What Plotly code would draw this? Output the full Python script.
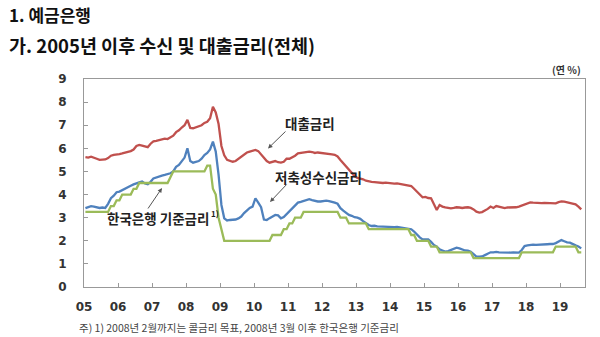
import pandas as pd
import plotly.graph_objects as go

# Monthly observations, Jan 2005 - Aug 2019
months = pd.date_range("2005-01-01", "2019-08-01", freq="MS")

# 대출금리 (loan rate, %)
loan_rate = [
    5.62, 5.60, 5.64, 5.58, 5.55, 5.50, 5.50, 5.52, 5.58, 5.68, 5.72, 5.72,  # 2005
    5.75, 5.78, 5.80, 5.85, 5.88, 5.95, 6.10, 6.15, 6.12, 6.08, 6.05, 6.20,  # 2006
    6.30, 6.32, 6.35, 6.40, 6.42, 6.40, 6.48, 6.55, 6.70, 6.78, 6.90, 7.00,  # 2007
    7.23, 6.88, 6.87, 6.92, 6.95, 7.00, 7.10, 7.15, 7.30, 7.80, 7.55, 7.05,  # 2008
    6.10, 5.70, 5.50, 5.45, 5.42, 5.45, 5.55, 5.64, 5.72, 5.82, 5.86, 5.90,  # 2009
    5.93, 5.88, 5.72, 5.60, 5.45, 5.38, 5.40, 5.45, 5.40, 5.38, 5.42, 5.55,  # 2010
    5.55, 5.60, 5.68, 5.78, 5.80, 5.82, 5.84, 5.86, 5.84, 5.80, 5.82, 5.81,  # 2011
    5.80, 5.78, 5.76, 5.74, 5.72, 5.65, 5.50, 5.35, 5.20, 5.05, 4.90, 4.80,  # 2012
    4.72, 4.70, 4.66, 4.60, 4.56, 4.55, 4.54, 4.52, 4.50, 4.50, 4.52, 4.50,  # 2013
    4.48, 4.47, 4.48, 4.46, 4.45, 4.42, 4.38, 4.37, 4.25, 4.13, 4.00, 3.88,  # 2014
    3.90, 3.85, 3.84, 3.60, 3.33, 3.55, 3.48, 3.45, 3.42, 3.40, 3.42, 3.45,  # 2015
    3.44, 3.42, 3.44, 3.45, 3.42, 3.36, 3.26, 3.22, 3.24, 3.30, 3.38, 3.48,  # 2016
    3.42, 3.50, 3.46, 3.42, 3.41, 3.44, 3.44, 3.45, 3.45, 3.48, 3.52, 3.55,  # 2017
    3.62, 3.66, 3.65, 3.64, 3.62, 3.63, 3.64, 3.63, 3.61, 3.60, 3.62, 3.67,  # 2018
    3.70, 3.69, 3.67, 3.64, 3.62, 3.58, 3.48, 3.36,                          # 2019
]

# 저축성수신금리 (savings deposit rate, %)
deposit_rate = [
    3.41, 3.45, 3.50, 3.48, 3.45, 3.42, 3.44, 3.42, 3.60, 3.84, 3.95, 4.10,  # 2005
    4.13, 4.20, 4.27, 4.32, 4.38, 4.44, 4.50, 4.53, 4.56, 4.48, 4.45, 4.55,  # 2006
    4.70, 4.75, 4.80, 4.82, 4.85, 4.88, 4.92, 5.00, 5.20, 5.28, 5.45, 5.60,  # 2007
    6.00, 5.45, 5.38, 5.42, 5.45, 5.55, 5.71, 5.80, 5.95, 6.29, 5.86, 4.85,  # 2008
    3.55, 2.97, 2.88, 2.90, 2.90, 2.92, 2.97, 3.05, 3.20, 3.33, 3.42, 3.48,  # 2009
    3.84, 3.65, 3.45, 2.92, 2.90, 2.98, 3.05, 3.12, 3.10, 2.97, 3.03, 3.15,  # 2010
    3.30, 3.40, 3.55, 3.65, 3.68, 3.72, 3.78, 3.80, 3.76, 3.72, 3.70, 3.70,  # 2011
    3.72, 3.74, 3.72, 3.70, 3.65, 3.60, 3.41, 3.30, 3.20, 3.12, 3.08, 3.02,  # 2012
    3.00, 2.95, 2.85, 2.76, 2.68, 2.64, 2.65, 2.62, 2.61, 2.60, 2.61, 2.60,  # 2013
    2.60, 2.59, 2.60, 2.58, 2.59, 2.57, 2.55, 2.50, 2.40, 2.25, 2.15, 2.06,  # 2014
    2.05, 2.06, 1.95, 1.82, 1.75, 1.63, 1.58, 1.53, 1.55, 1.60, 1.67, 1.70,  # 2015
    1.67, 1.62, 1.58, 1.57, 1.52, 1.42, 1.31, 1.31, 1.32, 1.38, 1.45, 1.50,  # 2016
    1.50, 1.52, 1.50, 1.49, 1.50, 1.48, 1.49, 1.50, 1.50, 1.49, 1.60, 1.77,  # 2017
    1.80, 1.82, 1.83, 1.82, 1.82, 1.83, 1.84, 1.85, 1.86, 1.86, 1.90, 1.98,  # 2018
    2.03, 1.98, 1.93, 1.92, 1.85, 1.80, 1.75, 1.67,                          # 2019
]

# 한국은행 기준금리 (policy rate, %; call rate target until Feb 2008)
base_rate = [
    3.25, 3.25, 3.25, 3.25, 3.25, 3.25, 3.25, 3.25, 3.25, 3.50, 3.50, 3.75,  # 2005
    3.75, 4.00, 4.00, 4.00, 4.00, 4.25, 4.25, 4.50, 4.50, 4.50, 4.50, 4.50,  # 2006
    4.50, 4.50, 4.50, 4.50, 4.50, 4.50, 4.75, 5.00, 5.00, 5.00, 5.00, 5.00,  # 2007
    5.00, 5.00, 5.00, 5.00, 5.00, 5.00, 5.00, 5.25, 5.25, 4.25, 4.00, 3.00,  # 2008
    2.50, 2.00, 2.00, 2.00, 2.00, 2.00, 2.00, 2.00, 2.00, 2.00, 2.00, 2.00,  # 2009
    2.00, 2.00, 2.00, 2.00, 2.00, 2.00, 2.25, 2.25, 2.25, 2.25, 2.50, 2.50,  # 2010
    2.75, 2.75, 3.00, 3.00, 3.00, 3.25, 3.25, 3.25, 3.25, 3.25, 3.25, 3.25,  # 2011
    3.25, 3.25, 3.25, 3.25, 3.25, 3.25, 3.00, 3.00, 3.00, 2.75, 2.75, 2.75,  # 2012
    2.75, 2.75, 2.75, 2.75, 2.50, 2.50, 2.50, 2.50, 2.50, 2.50, 2.50, 2.50,  # 2013
    2.50, 2.50, 2.50, 2.50, 2.50, 2.50, 2.50, 2.25, 2.25, 2.00, 2.00, 2.00,  # 2014
    2.00, 2.00, 1.75, 1.75, 1.75, 1.50, 1.50, 1.50, 1.50, 1.50, 1.50, 1.50,  # 2015
    1.50, 1.50, 1.50, 1.50, 1.50, 1.25, 1.25, 1.25, 1.25, 1.25, 1.25, 1.25,  # 2016
    1.25, 1.25, 1.25, 1.25, 1.25, 1.25, 1.25, 1.25, 1.25, 1.25, 1.50, 1.50,  # 2017
    1.50, 1.50, 1.50, 1.50, 1.50, 1.50, 1.50, 1.50, 1.50, 1.50, 1.75, 1.75,  # 2018
    1.75, 1.75, 1.75, 1.75, 1.75, 1.75, 1.50, 1.50,                          # 2019
]

year_ticks = list(range(2005, 2020))
year_labels = [f"{y % 100:02d}" for y in year_ticks]
y_ticks = list(range(0, 10))

# place each monthly point mid-month on a decimal-year axis
x = [d.year + (d.month - 0.5) / 12 for d in months]

fig = go.Figure()
fig.add_trace(go.Scatter(x=x, y=loan_rate, mode="lines",
                         line=dict(color="#C0504D", width=2.3), name="대출금리"))
fig.add_trace(go.Scatter(x=x, y=deposit_rate, mode="lines",
                         line=dict(color="#4F81BD", width=2.3), name="저축성수신금리"))
fig.add_trace(go.Scatter(x=x, y=base_rate, mode="lines",
                         line=dict(color="#9BBB59", width=2.3), name="한국은행 기준금리"))

L, R, T, B = 84, 15, 79, 50
W, H = 600, 337
pw, ph = W - L - R, H - T - B


def px(xp):
    return (xp - L) / pw


def py(yp):
    return (H - B - yp) / ph


kfont = "Noto Sans CJK KR"

annotations = [
    dict(text="<b>1. 예금은행</b>", x=px(7), y=py(14), xanchor="left", yanchor="middle",
         font=dict(family=kfont, size=17, color="#111111")),
    dict(text="<b>가. 2005년 이후 수신 및 대출금리(전체)</b>", x=px(7), y=py(45),
         xanchor="left", yanchor="middle", font=dict(family=kfont, size=18.5, color="#111111")),
    dict(text="<b>(연 %)</b>", x=px(583), y=py(70), xanchor="right", yanchor="middle",
         font=dict(family=kfont, size=10, color="#333333")),
    dict(text="주) 1) 2008년 2월까지는 콜금리 목표, 2008년 3월 이후 한국은행 기준금리",
         x=px(77), y=py(327), xanchor="left", yanchor="middle",
         font=dict(family=kfont, size=10.5, color="#444444")),
    dict(text="<b>대출금리</b>", x=px(310), y=py(123), xanchor="center", yanchor="middle",
         font=dict(family=kfont, size=13.5, color="#222222")),
    dict(text="<b>저축성수신금리</b>", x=px(318), y=py(177), xanchor="center", yanchor="middle",
         font=dict(family=kfont, size=13.5, color="#222222")),
    dict(text="<b>한국은행 기준금리</b>", x=px(158), y=py(218), xanchor="center",
         yanchor="middle", font=dict(family=kfont, size=13.5, color="#222222")),
    dict(text="<b>1)</b>", x=px(209), y=py(213), xanchor="left", yanchor="middle",
         font=dict(family=kfont, size=8, color="#222222")),
]

# pointer arrows from labels to lines
for hx, hy, tx, ty in [(268, 148.5, 287, 130), (270, 202, 288, 183), (162, 188, 147, 210)]:
    annotations.append(dict(text="", x=px(hx), y=py(hy), ax=tx - hx, ay=ty - hy,
                            showarrow=True, arrowhead=2, arrowsize=0.9, arrowwidth=1,
                            arrowcolor="#555555"))

for a in annotations:
    a.setdefault("showarrow", False)
    a["xref"] = "paper"
    a["yref"] = "paper"

tick_font = dict(family="DejaVu Sans", size=12, color="#333333", weight="bold")

fig.update_layout(
    width=W, height=H,
    margin=dict(l=L, r=R, t=T, b=B),
    paper_bgcolor="white", plot_bgcolor="white",
    showlegend=False,
    annotations=annotations,
    xaxis=dict(range=[2005, 2005 + pw / 34.0], tickvals=year_ticks, ticktext=year_labels,
               ticks="inside", ticklen=4, tickcolor="#999999", showgrid=False,
               showline=True, linecolor="#999999", linewidth=1, mirror=True,
               tickfont=tick_font, ticklabelstandoff=9, zeroline=False),
    yaxis=dict(range=[0, 9], tickvals=y_ticks, ticks="inside", ticklen=4,
               tickcolor="#999999", showgrid=False, showline=True, linecolor="#999999",
               linewidth=1, mirror=True, tickfont=tick_font, ticklabelstandoff=14,
               zeroline=False),
)

fig.write_html("out.html")
